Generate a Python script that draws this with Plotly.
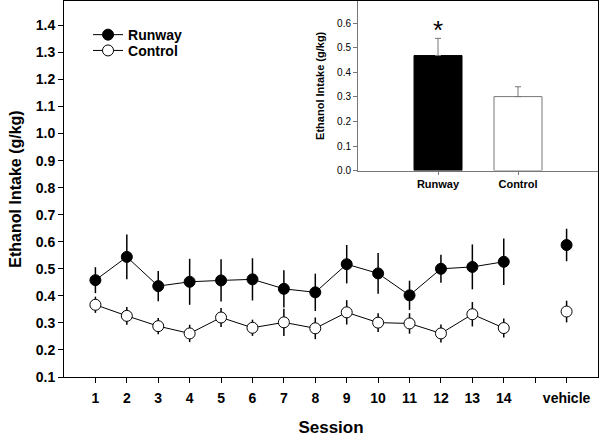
import plotly.graph_objects as go

sessions = ["1", "2", "3", "4", "5", "6", "7", "8", "9", "10", "11", "12", "13", "14", "vehicle"]
runway_mean = [0.458, 0.544, 0.436, 0.452, 0.457, 0.461, 0.426, 0.413, 0.517, 0.483, 0.402, 0.500, 0.507, 0.526, 0.588]
runway_sem = [0.048, 0.083, 0.056, 0.085, 0.078, 0.078, 0.069, 0.069, 0.071, 0.075, 0.054, 0.052, 0.083, 0.086, 0.060]
control_mean = [0.367, 0.326, 0.288, 0.261, 0.320, 0.282, 0.302, 0.280, 0.339, 0.301, 0.298, 0.261, 0.332, 0.281, 0.342]
control_sem = [0.030, 0.033, 0.030, 0.032, 0.035, 0.030, 0.050, 0.040, 0.045, 0.035, 0.038, 0.033, 0.045, 0.035, 0.040]

inset_groups = ["Runway", "Control"]
inset_mean = [0.468, 0.301]
inset_sem = [0.070, 0.040]

FONT = "Liberation Sans, Arial, sans-serif"

# sessions 1-14 sit at 1..14, a blank slot at 15, vehicle at 16
xpos = list(range(1, 15)) + [15, 16]


def with_gap(vals):
    return vals[:14] + [None] + vals[14:]


fig = go.Figure()

for name, mean, sem, fill, leg in [("Runway", runway_mean, runway_sem, "black", "legend"),
                                   ("Control", control_mean, control_sem, "white", "legend2")]:
    fig.add_trace(go.Scatter(
        x=xpos, y=with_gap(mean), name=name, mode="lines+markers",
        connectgaps=False, legend=leg,
        line=dict(color="black", width=1),
        marker=dict(size=11, color=fill, line=dict(color="black", width=1)),
        error_y=dict(type="data", array=with_gap(sem), color="black", thickness=1.5, width=0),
    ))

# inset bar chart
fig.add_trace(go.Bar(
    x=[0, 1], y=inset_mean, xaxis="x2", yaxis="y2", width=0.6, showlegend=False,
    marker=dict(color=["black", "white"], line=dict(color=["black", "#777777"], width=1)),
    error_y=dict(type="data", array=inset_sem, symmetric=False, arrayminus=[0, 0],
                 color="#777777", thickness=1, width=3),
))

fig.add_annotation(x=0, y=inset_mean[0] + inset_sem[0], xref="x2", yref="y2",
                   text="*", showarrow=False, yanchor="bottom", yshift=-9,
                   font=dict(family=FONT, size=26, color="black"))

tick_text = sessions[:14] + [""] + sessions[14:]
leg_font = dict(family=FONT, size=14, color="black", weight="bold")

fig.update_layout(
    width=600, height=437,
    margin=dict(l=64, r=2, t=1, b=60, autoexpand=False),
    paper_bgcolor="white", plot_bgcolor="white",
    font=dict(family=FONT, color="black"),
    showlegend=True,
    legend=dict(x=0.045, y=0.952, xanchor="left", yanchor="top",
                bgcolor="rgba(0,0,0,0)", itemwidth=30, font=leg_font),
    legend2=dict(x=0.045, y=0.910, xanchor="left", yanchor="top",
                 bgcolor="rgba(0,0,0,0)", itemwidth=30, font=leg_font),
    xaxis=dict(range=[0, 17], tickvals=xpos, ticktext=tick_text, automargin=False,
               showgrid=False, zeroline=False, showline=True, mirror=True,
               linecolor="black", linewidth=1, ticks="outside", ticklen=5,
               tickcolor="black", ticklabelstandoff=3,
               tickfont=dict(family=FONT, size=14, weight="bold"),
               title=dict(text="Session", font=dict(family=FONT, size=17, weight="bold"), standoff=20)),
    yaxis=dict(range=[0.1, 1.49], tickvals=[0.1 * i for i in range(1, 15)], automargin=False,
               tickformat=".1f", showgrid=False, zeroline=False, showline=True, mirror=True,
               linecolor="black", linewidth=1, ticks="outside", ticklen=5,
               tickcolor="black",
               tickfont=dict(family=FONT, size=14, weight="bold"),
               title=dict(text="Ethanol Intake (g/kg)", font=dict(family=FONT, size=16, weight="bold"), standoff=10)),
    xaxis2=dict(domain=[0.5506, 1.0], anchor="y2", range=[-1, 2], automargin=False,
                tickvals=[0, 1], ticktext=inset_groups,
                showgrid=False, zeroline=False, showline=True,
                linecolor="#777777", linewidth=1, ticks="outside", ticklen=3,
                tickcolor="#777777",
                tickfont=dict(family=FONT, size=11, weight="bold")),
    yaxis2=dict(domain=[0.549, 1.0], anchor="x2", range=[0, 0.69], automargin=False,
                tickvals=[0, 0.1, 0.2, 0.3, 0.4, 0.5, 0.6], tickformat=".1f",
                showgrid=False, zeroline=False, showline=True,
                linecolor="#777777", linewidth=1, ticks="outside", ticklen=4,
                tickcolor="#777777",
                tickfont=dict(family=FONT, size=10),
                title=dict(text="Ethanol Intake (g/kg)", font=dict(family=FONT, size=11, weight="bold"), standoff=10)),
)

fig.write_html("out.html", config={"displayModeBar": False},
               post_script="document.body.style.margin='0';")
